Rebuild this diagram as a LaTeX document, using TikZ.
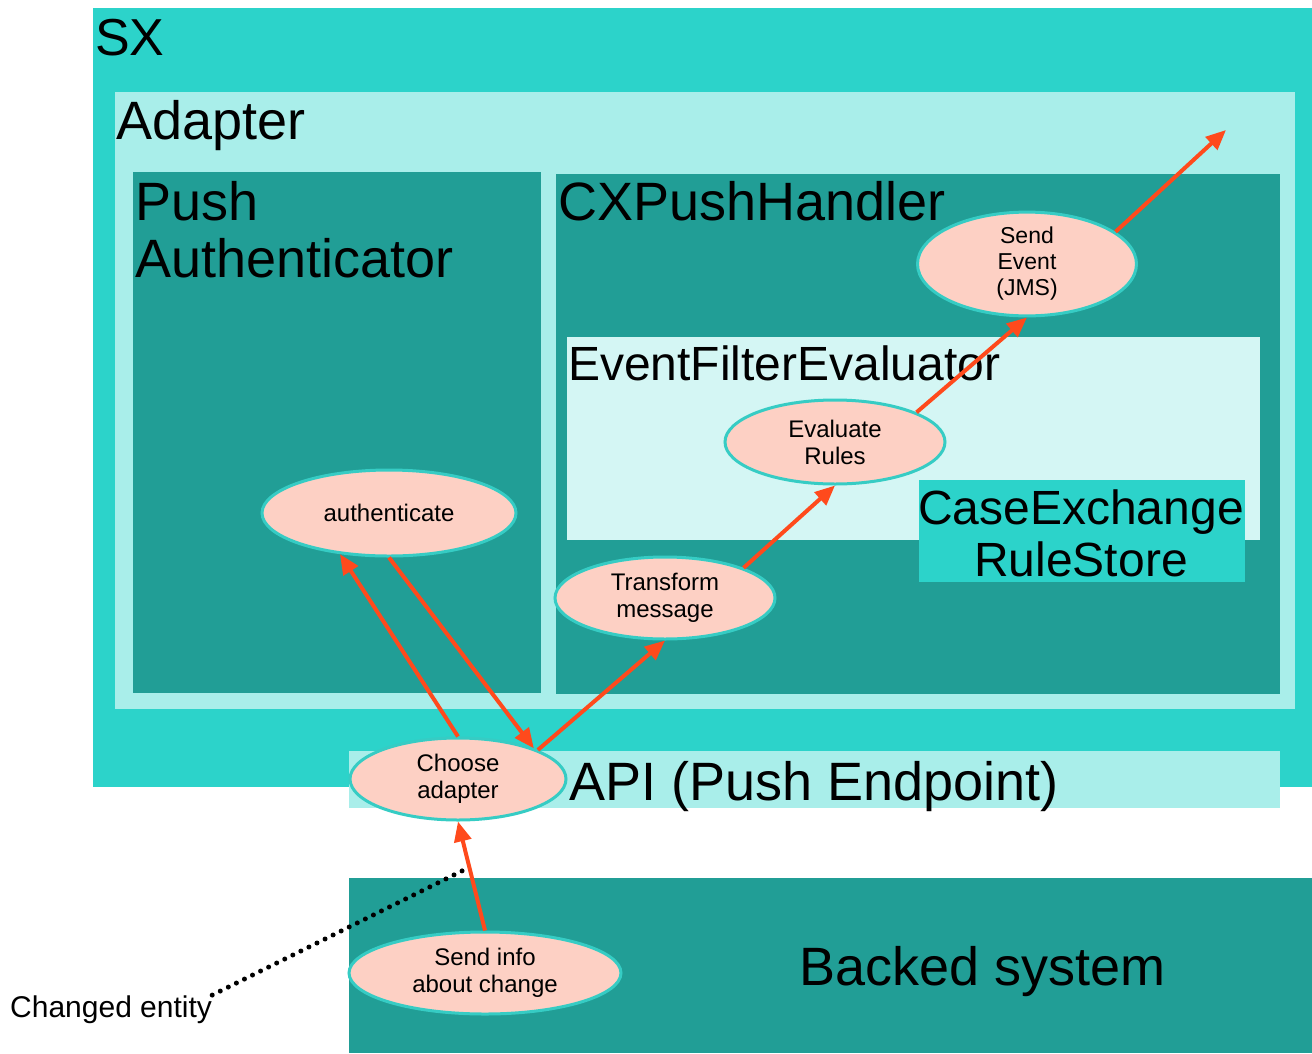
\documentclass[tikz,border=0pt]{standalone}
\usepackage{fontspec}
\setmainfont{Liberation Sans}
\usetikzlibrary{arrows.meta,shapes.geometric,calc}

\definecolor{sxteal}{HTML}{2CD3CA}
\definecolor{lightteal}{HTML}{A9EEEA}
\definecolor{darkteal}{HTML}{219E96}
\definecolor{paleteal}{HTML}{D4F6F4}
\definecolor{peach}{HTML}{FDD0C4}
\definecolor{ringteal}{HTML}{36CCC4}
\definecolor{flowred}{HTML}{FF4A1C}

\tikzset{
  title/.style={anchor=base west, inner sep=0pt, font=\fontsize{54}{57}\selectfont},
  midtitle/.style={anchor=base west, inner sep=0pt, font=\fontsize{48}{52}\selectfont},
  task/.style={ellipse, fill=peach, draw=ringteal, line width=3pt, inner sep=0pt,
    align=center, font=\fontsize{24}{27}\selectfont},
  flow/.style={draw=flowred, line width=4pt, -{Triangle[length=20pt,width=17pt]}},
  linkdots/.style={draw=black, line width=5pt, line cap=round, dash pattern=on 0pt off 9pt}
}

\begin{document}
\begin{tikzpicture}[x=1pt,y=-1pt]
\useasboundingbox (0,0) rectangle (1312,1053);
\fill[white] (0,0) rectangle (1312,1053);

% nested containers
\fill[sxteal]    (93,8)    rectangle (1312,787);
\fill[lightteal] (115,92)  rectangle (1295,709);
\fill[darkteal]  (133,172) rectangle (541,693);
\fill[darkteal]  (556,174) rectangle (1280,694);
\fill[paleteal]  (567,337) rectangle (1260,540);
\fill[sxteal]    (919,480) rectangle (1245,582);
\fill[lightteal] (349,751) rectangle (1280,808);
\fill[darkteal]  (349,878) rectangle (1312,1053);

% container titles
\node[title, font=\fontsize{52}{56}\selectfont] (tsx) at (95,55) {SX};
\node[title] (tadapter) at (116,139) {Adapter};
\node[title, anchor=north west, align=left] (tpush) at (135,181) {Push\\Authenticator};
\node[title] (tcx) at (558,220) {CXPushHandler};
\node[midtitle] (tefe) at (568,380) {EventFilterEvaluator};
\node[midtitle, anchor=north, align=center] (tstore) at (1081,490) {CaseExchange\\RuleStore};
\node[title] (tapi) at (569,800) {API (Push Endpoint)};
\node[title] (tbacked) at (799,985) {Backed system};
\node[anchor=base west, inner sep=0pt, font=\fontsize{30}{34}\selectfont] (entity) at (10,1017) {Changed entity};

% processing steps
\node[task, minimum width=254pt, minimum height=86pt] (auth) at (389,513) {authenticate};
\node[task, minimum width=216pt, minimum height=82pt] (choose) at (458,779) {Choose\\adapter};
\node[task, minimum width=220pt, minimum height=82pt] (transform) at (665,598) {Transform\\message};
\node[task, minimum width=220pt, minimum height=84pt] (evaluate) at (835,442) {Evaluate\\Rules};
\node[task, minimum width=219pt, minimum height=82pt, font=\fontsize{23}{26}\selectfont] (sendevt) at (1027,264) {Send\\Event\\(JMS)};
\node[task, minimum width=272pt, minimum height=82pt] (sendinfo) at (485,973) {Send info\\about change};

\coordinate (out) at (1226,130);

% message flow
\draw[flow] (choose.north) -- (auth.220);
\draw[flow] (auth.south) -- (choose.22);
\draw[flow] (choose.20) -- (transform.south);
\draw[flow] (transform.21) -- (evaluate.south);
\draw[flow] (evaluate.20) -- (sendevt.south);
\draw[flow] (sendevt.20) -- (out);
\draw[flow] (sendinfo.north) -- (choose.south);

\coordinate (mark) at ($(sendinfo.north)!0.58!(choose.south)$);
\draw[linkdots] (entity.north east) -- (mark);
\end{tikzpicture}
\end{document}
